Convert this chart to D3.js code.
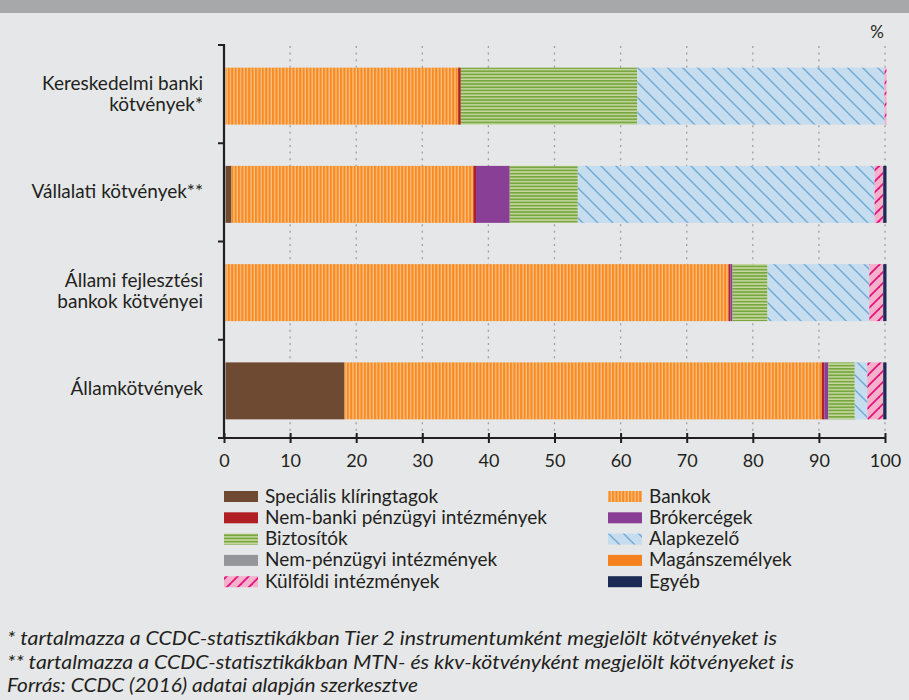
<!DOCTYPE html>
<html>
<head>
<meta charset="utf-8">
<script src="https://cdn.jsdelivr.net/npm/d3@7"></script>
<style>
  html, body { margin: 0; padding: 0; background: #e6e7e8; }
  svg { display: block; }
  text { font-family: Lato, "Liberation Sans", sans-serif; fill: #231f20; }
</style>
</head>
<body>
<svg id="chart" width="909" height="700"></svg>
<script>
// ---------------- DATA ----------------
const categories = [
  "Kereskedelmi banki kötvények*",
  "Vállalati kötvények**",
  "Állami fejlesztési bankok kötvényei",
  "Államkötvények"
];
const categoryLines = [
  ["Kereskedelmi banki", "kötvények*"],
  ["Vállalati kötvények**"],
  ["Állami fejlesztési", "bankok kötvényei"],
  ["Államkötvények"]
];
const seriesNames = [
  "Speciális klíringtagok",
  "Bankok",
  "Nem-banki pénzügyi intézmények",
  "Brókercégek",
  "Biztosítók",
  "Alapkezelő",
  "Nem-pénzügyi intézmények",
  "Magánszemélyek",
  "Külföldi intézmények",
  "Egyéb"
];
const specialisValues   = [0,    0.9,  0,    18.0];
const bankokValues      = [35.2, 36.6, 76.1, 72.2];
const nemBankiValues    = [0.4,  0.4,  0.3,  0.4];
const brokerValues      = [0,    5.1,  0.3,  0.6];
const biztositoValues   = [26.7, 10.3, 5.3,  4.0];
const alapkezeloValues  = [37.4, 44.9, 15.4, 1.9];
const nemPenzugyiValues = [0,    0,    0,    0];
const maganValues       = [0,    0,    0,    0];
const kulfoldiValues    = [0.3,  1.3,  2.1,  2.4];
const egyebValues       = [0,    0.5,  0.5,  0.5];
const xTicks = [0, 10, 20, 30, 40, 50, 60, 70, 80, 90, 100];
const unitLabel = "%";
const footnotes = [
  "* tartalmazza a CCDC-statisztikákban Tier 2 instrumentumként megjelölt kötvényeket is",
  "** tartalmazza a CCDC-statisztikákban MTN- és kkv-kötvényként megjelölt kötvényeket is",
  "Forrás: CCDC (2016) adatai alapján szerkesztve"
];
const footnoteWidths = [770, 787, 411];

const seriesValues = [specialisValues, bankokValues, nemBankiValues, brokerValues,
  biztositoValues, alapkezeloValues, nemPenzugyiValues, maganValues, kulfoldiValues, egyebValues];

// ---------------- SETUP ----------------
const svg = d3.select("#chart");
const defs = svg.append("defs");

function stripesV(id, bg, fg) {
  const p = defs.append("pattern").attr("id", id).attr("patternUnits", "userSpaceOnUse")
    .attr("width", 3.4).attr("height", 10);
  p.append("rect").attr("width", 3.4).attr("height", 10).attr("fill", bg);
  p.append("rect").attr("width", 2.1).attr("height", 10).attr("fill", fg);
}
function stripesH(id, bg, fg) {
  const p = defs.append("pattern").attr("id", id).attr("patternUnits", "userSpaceOnUse")
    .attr("width", 10).attr("height", 3.2);
  p.append("rect").attr("width", 10).attr("height", 3.2).attr("fill", bg);
  p.append("rect").attr("width", 10).attr("height", 1.7).attr("fill", fg);
}
function diag(id, bg, fg, s, w, dir) {
  const p = defs.append("pattern").attr("id", id).attr("patternUnits", "userSpaceOnUse")
    .attr("width", s).attr("height", s);
  p.append("rect").attr("width", s).attr("height", s).attr("fill", bg);
  const segs = dir === "back"
    ? [[-s, 0, 0, s], [0, 0, s, s], [0, -s, s, 0], [s, 0, 2 * s, s], [0, s, s, 2 * s]]
    : [[0, s, s, 0], [-s, s, 0, 0], [s, s, 2 * s, 0], [0, 2 * s, s, s], [0, 0, s, -s]];
  segs.forEach(([x1, y1, x2, y2]) => {
    p.append("line").attr("x1", x1).attr("y1", y1).attr("x2", x2).attr("y2", y2)
      .attr("stroke", fg).attr("stroke-width", w);
  });
}
stripesV("pBank", "#fcc08a", "#f68b1f");
stripesH("pBizt", "#c4d89f", "#7aa642");
diag("pAlap", "#c6dcef", "#72aad6", 15, 1.5, "back");
diag("pKulf", "#f5b0cb", "#e2127c", 11, 1.8, "fwd");

const fills = [
  "#6f4a33",
  "url(#pBank)",
  "#b01f24",
  "#8a3f96",
  "url(#pBizt)",
  "url(#pAlap)",
  "#939598",
  "#f5821f",
  "url(#pKulf)",
  "#1c2b55"
];

// header band
svg.append("rect").attr("x", 0).attr("y", 0).attr("width", 909).attr("height", 13).attr("fill", "#a7a8aa");

const x = d3.scaleLinear().domain([0, 100]).range([224, 885]);
const y = d3.scaleBand().domain(categories).range([45, 438]).paddingInner(0.42).paddingOuter(0.21);
const yAxisBands = d3.scaleBand().domain(categories).range([45, 438]);

// gridlines
svg.append("g").selectAll("line").data(xTicks.filter(d => d > 0)).join("line")
  .attr("x1", d => x(d)).attr("x2", d => x(d))
  .attr("y1", 46).attr("y2", 437)
  .attr("stroke", "#9d9fa2").attr("stroke-width", 1.3)
  .attr("stroke-dasharray", "2,4.6");

// stacked data
const table = categories.map((c, i) => {
  const o = { cat: c };
  seriesNames.forEach((s, j) => o[s] = seriesValues[j][i]);
  return o;
});
const stacked = d3.stack().keys(seriesNames)(table);

svg.append("g").selectAll("g").data(stacked).join("g")
  .attr("fill", (d, i) => fills[i])
  .selectAll("rect").data(d => d).join("rect")
  .attr("x", d => x(d[0]) + 1.5)
  .attr("width", d => Math.max(0, x(d[1]) - x(d[0])))
  .attr("y", d => y(d.data.cat) + 2)
  .attr("height", y.bandwidth());

// y axis
const yAxisG = svg.append("g");
yAxisG.append("line").attr("x1", 224).attr("x2", 224).attr("y1", 44).attr("y2", 439)
  .attr("stroke", "#231f20").attr("stroke-width", 2.2);
const bounds = categories.map(c => yAxisBands(c)).concat([438]);
yAxisG.selectAll("line.tk").data(bounds).join("line").attr("class", "tk")
  .attr("x1", 218).attr("x2", 224).attr("y1", d => d).attr("y2", d => d)
  .attr("stroke", "#231f20").attr("stroke-width", 2);

// category labels
categories.forEach((c, i) => {
  const lines = categoryLines[i];
  const cy = yAxisBands(c) + yAxisBands.bandwidth() / 2;
  lines.forEach((ln, k) => {
    const by = lines.length === 1 ? cy + 6 : cy - 4 + k * 21;
    svg.append("text").attr("text-anchor", "end").attr("font-size", 19)
      .attr("x", 203).attr("y", by).text(ln);
  });
});

// x axis
const xAxis = d3.axisBottom(x).tickValues(xTicks).tickSize(0).tickPadding(0).tickFormat(d3.format("d"));
const xg = svg.append("g").attr("transform", "translate(0,438)").call(xAxis);
xg.select(".domain").remove();
xg.append("line").attr("x1", 223).attr("x2", 886).attr("y1", 0).attr("y2", 0)
  .attr("stroke", "#231f20").attr("stroke-width", 2.2);
xg.selectAll(".tick").append("line").attr("y1", -5).attr("y2", 5)
  .attr("stroke", "#231f20").attr("stroke-width", 2);
xg.selectAll(".tick text").attr("y", 29).attr("dy", 0)
  .attr("font-size", 18).attr("fill", "#231f20")
  .attr("font-family", "Lato, 'Liberation Sans', sans-serif");

svg.append("text").attr("x", 877).attr("y", 38).attr("text-anchor", "middle")
  .attr("font-size", 17).text(unitLabel);

// legend
const legend = svg.append("g");
seriesNames.forEach((s, i) => {
  const col = i % 2, row = Math.floor(i / 2);
  const lx = col === 0 ? 224 : 608;
  const ly = 491 + row * 21.3;
  legend.append("rect").attr("x", lx).attr("y", ly).attr("width", 34).attr("height", 11)
    .attr("fill", fills[i]);
  legend.append("text").attr("x", lx + 41).attr("y", ly + 11.5)
    .attr("font-size", 19).text(s);
});

// footnotes
footnotes.forEach((f, i) => {
  svg.append("text").attr("x", 7).attr("y", 645 + i * 23.5)
    .attr("font-size", 19).attr("font-style", "italic")
    .attr("textLength", footnoteWidths[i]).attr("lengthAdjust", "spacingAndGlyphs")
    .text(f);
});
</script>
</body>
</html>
